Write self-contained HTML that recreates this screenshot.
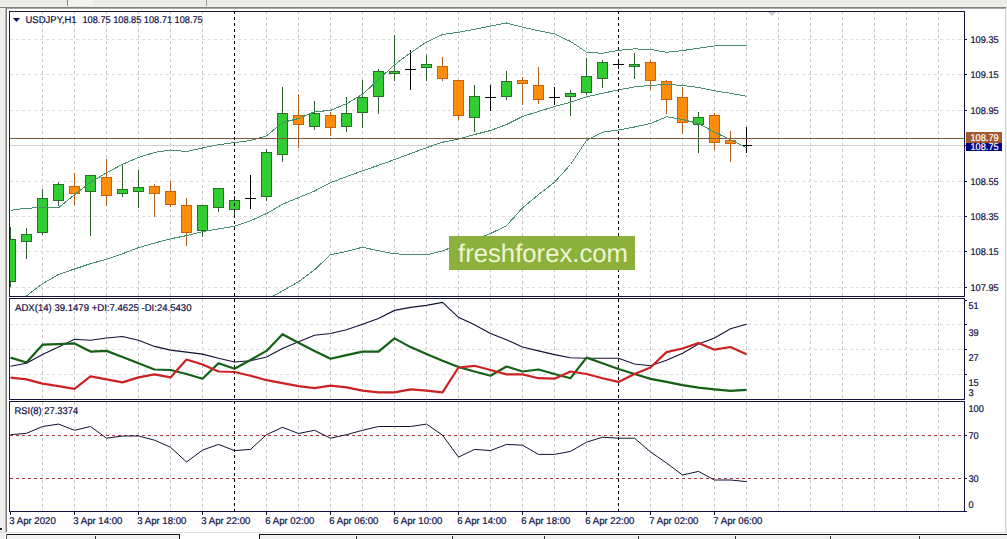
<!DOCTYPE html>
<html><head><meta charset="utf-8"><title>USDJPY H1</title>
<style>html,body{margin:0;padding:0;background:#fff;width:1007px;height:539px;overflow:hidden}
svg{display:block} text{font-family:"Liberation Sans",sans-serif;text-rendering:geometricPrecision}</style></head>
<body><svg width="1007" height="539" viewBox="0 0 1007 539"><defs><clipPath id="mainclip"><rect x="10" y="12" width="954" height="284"/></clipPath><clipPath id="adxclip"><rect x="10" y="299" width="954" height="100"/></clipPath></defs><rect x="0" y="0" width="1007" height="539" fill="#ffffff"/><rect x="0" y="0" width="1007" height="7" fill="#ebebe7"/><rect x="67" y="0" width="1" height="6" fill="#8a8a8a"/><rect x="68" y="0" width="25" height="6" fill="#f2f2f0"/><rect x="206" y="0" width="1" height="6" fill="#9a9a9a"/><rect x="0" y="7" width="1006" height="1" fill="#808080"/><rect x="0" y="8" width="1006" height="1" fill="#a8a8a8"/><rect x="0" y="8" width="5" height="531" fill="#efefed"/><rect x="5" y="8" width="1" height="525" fill="#b4b4b4"/><rect x="6" y="8" width="1" height="525" fill="#7c7c7c"/><rect x="0" y="528" width="2" height="2" fill="#222"/><rect x="1005" y="9" width="1" height="524" fill="#d4d4d4"/><rect x="1006" y="9" width="1" height="524" fill="#f2f2f2"/><rect x="0" y="532" width="1007" height="1" fill="#dedede"/><rect x="6" y="534" width="1001" height="5" fill="#f0f0f0"/><rect x="6" y="534" width="1001" height="1" fill="#111"/><rect x="180" y="533" width="79" height="6" fill="#ffffff"/><rect x="179" y="534" width="1" height="5" fill="#111"/><rect x="259" y="534" width="1" height="5" fill="#111"/><rect x="6" y="534" width="1" height="5" fill="#555"/><rect x="95" y="536" width="1" height="3" fill="#333"/><rect x="356" y="536" width="1" height="3" fill="#333"/><rect x="452" y="536" width="1" height="3" fill="#333"/><rect x="544" y="536" width="1" height="3" fill="#333"/><rect x="638" y="536" width="1" height="3" fill="#333"/><rect x="735" y="536" width="1" height="3" fill="#333"/><rect x="830" y="536" width="1" height="3" fill="#333"/><rect x="919" y="536" width="1" height="3" fill="#333"/><g shape-rendering="crispEdges"><line x1="42.5" y1="11" x2="42.5" y2="296" stroke="#c6c6c6" stroke-width="1" stroke-dasharray="3 3"/><line x1="42.5" y1="299" x2="42.5" y2="399" stroke="#c6c6c6" stroke-width="1" stroke-dasharray="3 3"/><line x1="42.5" y1="402" x2="42.5" y2="511" stroke="#c6c6c6" stroke-width="1" stroke-dasharray="3 3"/><line x1="74.5" y1="11" x2="74.5" y2="296" stroke="#c6c6c6" stroke-width="1" stroke-dasharray="3 3"/><line x1="74.5" y1="299" x2="74.5" y2="399" stroke="#c6c6c6" stroke-width="1" stroke-dasharray="3 3"/><line x1="74.5" y1="402" x2="74.5" y2="511" stroke="#c6c6c6" stroke-width="1" stroke-dasharray="3 3"/><line x1="106.5" y1="11" x2="106.5" y2="296" stroke="#c6c6c6" stroke-width="1" stroke-dasharray="3 3"/><line x1="106.5" y1="299" x2="106.5" y2="399" stroke="#c6c6c6" stroke-width="1" stroke-dasharray="3 3"/><line x1="106.5" y1="402" x2="106.5" y2="511" stroke="#c6c6c6" stroke-width="1" stroke-dasharray="3 3"/><line x1="138.5" y1="11" x2="138.5" y2="296" stroke="#c6c6c6" stroke-width="1" stroke-dasharray="3 3"/><line x1="138.5" y1="299" x2="138.5" y2="399" stroke="#c6c6c6" stroke-width="1" stroke-dasharray="3 3"/><line x1="138.5" y1="402" x2="138.5" y2="511" stroke="#c6c6c6" stroke-width="1" stroke-dasharray="3 3"/><line x1="170.5" y1="11" x2="170.5" y2="296" stroke="#c6c6c6" stroke-width="1" stroke-dasharray="3 3"/><line x1="170.5" y1="299" x2="170.5" y2="399" stroke="#c6c6c6" stroke-width="1" stroke-dasharray="3 3"/><line x1="170.5" y1="402" x2="170.5" y2="511" stroke="#c6c6c6" stroke-width="1" stroke-dasharray="3 3"/><line x1="202.5" y1="11" x2="202.5" y2="296" stroke="#c6c6c6" stroke-width="1" stroke-dasharray="3 3"/><line x1="202.5" y1="299" x2="202.5" y2="399" stroke="#c6c6c6" stroke-width="1" stroke-dasharray="3 3"/><line x1="202.5" y1="402" x2="202.5" y2="511" stroke="#c6c6c6" stroke-width="1" stroke-dasharray="3 3"/><line x1="266.5" y1="11" x2="266.5" y2="296" stroke="#c6c6c6" stroke-width="1" stroke-dasharray="3 3"/><line x1="266.5" y1="299" x2="266.5" y2="399" stroke="#c6c6c6" stroke-width="1" stroke-dasharray="3 3"/><line x1="266.5" y1="402" x2="266.5" y2="511" stroke="#c6c6c6" stroke-width="1" stroke-dasharray="3 3"/><line x1="298.5" y1="11" x2="298.5" y2="296" stroke="#c6c6c6" stroke-width="1" stroke-dasharray="3 3"/><line x1="298.5" y1="299" x2="298.5" y2="399" stroke="#c6c6c6" stroke-width="1" stroke-dasharray="3 3"/><line x1="298.5" y1="402" x2="298.5" y2="511" stroke="#c6c6c6" stroke-width="1" stroke-dasharray="3 3"/><line x1="330.5" y1="11" x2="330.5" y2="296" stroke="#c6c6c6" stroke-width="1" stroke-dasharray="3 3"/><line x1="330.5" y1="299" x2="330.5" y2="399" stroke="#c6c6c6" stroke-width="1" stroke-dasharray="3 3"/><line x1="330.5" y1="402" x2="330.5" y2="511" stroke="#c6c6c6" stroke-width="1" stroke-dasharray="3 3"/><line x1="362.5" y1="11" x2="362.5" y2="296" stroke="#c6c6c6" stroke-width="1" stroke-dasharray="3 3"/><line x1="362.5" y1="299" x2="362.5" y2="399" stroke="#c6c6c6" stroke-width="1" stroke-dasharray="3 3"/><line x1="362.5" y1="402" x2="362.5" y2="511" stroke="#c6c6c6" stroke-width="1" stroke-dasharray="3 3"/><line x1="394.5" y1="11" x2="394.5" y2="296" stroke="#c6c6c6" stroke-width="1" stroke-dasharray="3 3"/><line x1="394.5" y1="299" x2="394.5" y2="399" stroke="#c6c6c6" stroke-width="1" stroke-dasharray="3 3"/><line x1="394.5" y1="402" x2="394.5" y2="511" stroke="#c6c6c6" stroke-width="1" stroke-dasharray="3 3"/><line x1="426.5" y1="11" x2="426.5" y2="296" stroke="#c6c6c6" stroke-width="1" stroke-dasharray="3 3"/><line x1="426.5" y1="299" x2="426.5" y2="399" stroke="#c6c6c6" stroke-width="1" stroke-dasharray="3 3"/><line x1="426.5" y1="402" x2="426.5" y2="511" stroke="#c6c6c6" stroke-width="1" stroke-dasharray="3 3"/><line x1="458.5" y1="11" x2="458.5" y2="296" stroke="#c6c6c6" stroke-width="1" stroke-dasharray="3 3"/><line x1="458.5" y1="299" x2="458.5" y2="399" stroke="#c6c6c6" stroke-width="1" stroke-dasharray="3 3"/><line x1="458.5" y1="402" x2="458.5" y2="511" stroke="#c6c6c6" stroke-width="1" stroke-dasharray="3 3"/><line x1="490.5" y1="11" x2="490.5" y2="296" stroke="#c6c6c6" stroke-width="1" stroke-dasharray="3 3"/><line x1="490.5" y1="299" x2="490.5" y2="399" stroke="#c6c6c6" stroke-width="1" stroke-dasharray="3 3"/><line x1="490.5" y1="402" x2="490.5" y2="511" stroke="#c6c6c6" stroke-width="1" stroke-dasharray="3 3"/><line x1="522.5" y1="11" x2="522.5" y2="296" stroke="#c6c6c6" stroke-width="1" stroke-dasharray="3 3"/><line x1="522.5" y1="299" x2="522.5" y2="399" stroke="#c6c6c6" stroke-width="1" stroke-dasharray="3 3"/><line x1="522.5" y1="402" x2="522.5" y2="511" stroke="#c6c6c6" stroke-width="1" stroke-dasharray="3 3"/><line x1="554.5" y1="11" x2="554.5" y2="296" stroke="#c6c6c6" stroke-width="1" stroke-dasharray="3 3"/><line x1="554.5" y1="299" x2="554.5" y2="399" stroke="#c6c6c6" stroke-width="1" stroke-dasharray="3 3"/><line x1="554.5" y1="402" x2="554.5" y2="511" stroke="#c6c6c6" stroke-width="1" stroke-dasharray="3 3"/><line x1="586.5" y1="11" x2="586.5" y2="296" stroke="#c6c6c6" stroke-width="1" stroke-dasharray="3 3"/><line x1="586.5" y1="299" x2="586.5" y2="399" stroke="#c6c6c6" stroke-width="1" stroke-dasharray="3 3"/><line x1="586.5" y1="402" x2="586.5" y2="511" stroke="#c6c6c6" stroke-width="1" stroke-dasharray="3 3"/><line x1="650.5" y1="11" x2="650.5" y2="296" stroke="#c6c6c6" stroke-width="1" stroke-dasharray="3 3"/><line x1="650.5" y1="299" x2="650.5" y2="399" stroke="#c6c6c6" stroke-width="1" stroke-dasharray="3 3"/><line x1="650.5" y1="402" x2="650.5" y2="511" stroke="#c6c6c6" stroke-width="1" stroke-dasharray="3 3"/><line x1="682.5" y1="11" x2="682.5" y2="296" stroke="#c6c6c6" stroke-width="1" stroke-dasharray="3 3"/><line x1="682.5" y1="299" x2="682.5" y2="399" stroke="#c6c6c6" stroke-width="1" stroke-dasharray="3 3"/><line x1="682.5" y1="402" x2="682.5" y2="511" stroke="#c6c6c6" stroke-width="1" stroke-dasharray="3 3"/><line x1="714.5" y1="11" x2="714.5" y2="296" stroke="#c6c6c6" stroke-width="1" stroke-dasharray="3 3"/><line x1="714.5" y1="299" x2="714.5" y2="399" stroke="#c6c6c6" stroke-width="1" stroke-dasharray="3 3"/><line x1="714.5" y1="402" x2="714.5" y2="511" stroke="#c6c6c6" stroke-width="1" stroke-dasharray="3 3"/><line x1="746.5" y1="11" x2="746.5" y2="296" stroke="#c6c6c6" stroke-width="1" stroke-dasharray="3 3"/><line x1="746.5" y1="299" x2="746.5" y2="399" stroke="#c6c6c6" stroke-width="1" stroke-dasharray="3 3"/><line x1="746.5" y1="402" x2="746.5" y2="511" stroke="#c6c6c6" stroke-width="1" stroke-dasharray="3 3"/><line x1="778.5" y1="11" x2="778.5" y2="296" stroke="#c6c6c6" stroke-width="1" stroke-dasharray="3 3"/><line x1="778.5" y1="299" x2="778.5" y2="399" stroke="#c6c6c6" stroke-width="1" stroke-dasharray="3 3"/><line x1="778.5" y1="402" x2="778.5" y2="511" stroke="#c6c6c6" stroke-width="1" stroke-dasharray="3 3"/><line x1="810.5" y1="11" x2="810.5" y2="296" stroke="#c6c6c6" stroke-width="1" stroke-dasharray="3 3"/><line x1="810.5" y1="299" x2="810.5" y2="399" stroke="#c6c6c6" stroke-width="1" stroke-dasharray="3 3"/><line x1="810.5" y1="402" x2="810.5" y2="511" stroke="#c6c6c6" stroke-width="1" stroke-dasharray="3 3"/><line x1="842.5" y1="11" x2="842.5" y2="296" stroke="#c6c6c6" stroke-width="1" stroke-dasharray="3 3"/><line x1="842.5" y1="299" x2="842.5" y2="399" stroke="#c6c6c6" stroke-width="1" stroke-dasharray="3 3"/><line x1="842.5" y1="402" x2="842.5" y2="511" stroke="#c6c6c6" stroke-width="1" stroke-dasharray="3 3"/><line x1="874.5" y1="11" x2="874.5" y2="296" stroke="#c6c6c6" stroke-width="1" stroke-dasharray="3 3"/><line x1="874.5" y1="299" x2="874.5" y2="399" stroke="#c6c6c6" stroke-width="1" stroke-dasharray="3 3"/><line x1="874.5" y1="402" x2="874.5" y2="511" stroke="#c6c6c6" stroke-width="1" stroke-dasharray="3 3"/><line x1="906.5" y1="11" x2="906.5" y2="296" stroke="#c6c6c6" stroke-width="1" stroke-dasharray="3 3"/><line x1="906.5" y1="299" x2="906.5" y2="399" stroke="#c6c6c6" stroke-width="1" stroke-dasharray="3 3"/><line x1="906.5" y1="402" x2="906.5" y2="511" stroke="#c6c6c6" stroke-width="1" stroke-dasharray="3 3"/><line x1="938.5" y1="11" x2="938.5" y2="296" stroke="#c6c6c6" stroke-width="1" stroke-dasharray="3 3"/><line x1="938.5" y1="299" x2="938.5" y2="399" stroke="#c6c6c6" stroke-width="1" stroke-dasharray="3 3"/><line x1="938.5" y1="402" x2="938.5" y2="511" stroke="#c6c6c6" stroke-width="1" stroke-dasharray="3 3"/><line x1="10" y1="39.5" x2="964" y2="39.5" stroke="#dcdcdc" stroke-width="1" stroke-dasharray="3 3"/><line x1="10" y1="74.5" x2="964" y2="74.5" stroke="#dcdcdc" stroke-width="1" stroke-dasharray="3 3"/><line x1="10" y1="110.5" x2="964" y2="110.5" stroke="#dcdcdc" stroke-width="1" stroke-dasharray="3 3"/><line x1="10" y1="145.5" x2="964" y2="145.5" stroke="#dcdcdc" stroke-width="1" stroke-dasharray="3 3"/><line x1="10" y1="181.5" x2="964" y2="181.5" stroke="#dcdcdc" stroke-width="1" stroke-dasharray="3 3"/><line x1="10" y1="216.5" x2="964" y2="216.5" stroke="#dcdcdc" stroke-width="1" stroke-dasharray="3 3"/><line x1="10" y1="251.5" x2="964" y2="251.5" stroke="#dcdcdc" stroke-width="1" stroke-dasharray="3 3"/><line x1="10" y1="287.5" x2="964" y2="287.5" stroke="#dcdcdc" stroke-width="1" stroke-dasharray="3 3"/><line x1="10" y1="324.5" x2="964" y2="324.5" stroke="#dcdcdc" stroke-width="1" stroke-dasharray="3 3"/><line x1="10" y1="349.5" x2="964" y2="349.5" stroke="#dcdcdc" stroke-width="1" stroke-dasharray="3 3"/><line x1="10" y1="374.5" x2="964" y2="374.5" stroke="#dcdcdc" stroke-width="1" stroke-dasharray="3 3"/></g><g shape-rendering="crispEdges"><line x1="10" y1="435.5" x2="964" y2="435.5" stroke="#a83838" stroke-dasharray="3 3"/><line x1="10" y1="478.5" x2="964" y2="478.5" stroke="#a83838" stroke-dasharray="3 3"/></g><g clip-path="url(#mainclip)"><rect x="10" y="145" width="954" height="1" fill="#cfcfcf"/><g shape-rendering="crispEdges"><rect x="10" y="227" width="1" height="60" fill="#2f602f"/><rect x="5" y="239" width="11" height="43" fill="#287028"/><rect x="6" y="240" width="9" height="41" fill="#33cc33"/><rect x="26" y="228" width="1" height="31" fill="#2f602f"/><rect x="21" y="234" width="11" height="8" fill="#287028"/><rect x="22" y="235" width="9" height="6" fill="#33cc33"/><rect x="42" y="189" width="1" height="46" fill="#2f602f"/><rect x="37" y="198" width="11" height="35" fill="#287028"/><rect x="38" y="199" width="9" height="33" fill="#33cc33"/><rect x="58" y="182" width="1" height="24" fill="#2f602f"/><rect x="53" y="184" width="11" height="17" fill="#287028"/><rect x="54" y="185" width="9" height="15" fill="#33cc33"/><rect x="74" y="173" width="1" height="32" fill="#b05c1a"/><rect x="69" y="186" width="11" height="8" fill="#c8640a"/><rect x="70" y="187" width="9" height="6" fill="#ff8c0a"/><rect x="90" y="175" width="1" height="61" fill="#2f602f"/><rect x="85" y="175" width="11" height="17" fill="#287028"/><rect x="86" y="176" width="9" height="15" fill="#33cc33"/><rect x="106" y="159" width="1" height="47" fill="#b05c1a"/><rect x="101" y="177" width="11" height="19" fill="#c8640a"/><rect x="102" y="178" width="9" height="17" fill="#ff8c0a"/><rect x="122" y="164" width="1" height="33" fill="#2f602f"/><rect x="117" y="189" width="11" height="5" fill="#287028"/><rect x="118" y="190" width="9" height="3" fill="#33cc33"/><rect x="138" y="170" width="1" height="38" fill="#2f602f"/><rect x="133" y="187" width="11" height="5" fill="#287028"/><rect x="134" y="188" width="9" height="3" fill="#33cc33"/><rect x="154" y="184" width="1" height="33" fill="#b05c1a"/><rect x="149" y="186" width="11" height="8" fill="#c8640a"/><rect x="150" y="187" width="9" height="6" fill="#ff8c0a"/><rect x="170" y="181" width="1" height="26" fill="#b05c1a"/><rect x="165" y="191" width="11" height="14" fill="#c8640a"/><rect x="166" y="192" width="9" height="12" fill="#ff8c0a"/><rect x="186" y="198" width="1" height="48" fill="#b05c1a"/><rect x="181" y="205" width="11" height="28" fill="#c8640a"/><rect x="182" y="206" width="9" height="26" fill="#ff8c0a"/><rect x="202" y="205" width="1" height="32" fill="#2f602f"/><rect x="197" y="205" width="11" height="26" fill="#287028"/><rect x="198" y="206" width="9" height="24" fill="#33cc33"/><rect x="218" y="188" width="1" height="24" fill="#2f602f"/><rect x="213" y="188" width="11" height="20" fill="#287028"/><rect x="214" y="189" width="9" height="18" fill="#33cc33"/><rect x="234" y="196" width="1" height="21" fill="#2f602f"/><rect x="229" y="200" width="11" height="10" fill="#287028"/><rect x="230" y="201" width="9" height="8" fill="#33cc33"/><rect x="250" y="175" width="1" height="34" fill="#000"/><rect x="245" y="198" width="11" height="1" fill="#000"/><rect x="266" y="149" width="1" height="52" fill="#2f602f"/><rect x="261" y="152" width="11" height="45" fill="#287028"/><rect x="262" y="153" width="9" height="43" fill="#33cc33"/><rect x="282" y="87" width="1" height="75" fill="#2f602f"/><rect x="277" y="113" width="11" height="42" fill="#287028"/><rect x="278" y="114" width="9" height="40" fill="#33cc33"/><rect x="298" y="94" width="1" height="54" fill="#b05c1a"/><rect x="293" y="115" width="11" height="10" fill="#c8640a"/><rect x="294" y="116" width="9" height="8" fill="#ff8c0a"/><rect x="314" y="101" width="1" height="29" fill="#2f602f"/><rect x="309" y="113" width="11" height="14" fill="#287028"/><rect x="310" y="114" width="9" height="12" fill="#33cc33"/><rect x="330" y="112" width="1" height="24" fill="#b05c1a"/><rect x="325" y="115" width="11" height="13" fill="#c8640a"/><rect x="326" y="116" width="9" height="11" fill="#ff8c0a"/><rect x="346" y="97" width="1" height="35" fill="#2f602f"/><rect x="341" y="113" width="11" height="14" fill="#287028"/><rect x="342" y="114" width="9" height="12" fill="#33cc33"/><rect x="362" y="80" width="1" height="48" fill="#2f602f"/><rect x="357" y="97" width="11" height="16" fill="#287028"/><rect x="358" y="98" width="9" height="14" fill="#33cc33"/><rect x="378" y="69" width="1" height="45" fill="#2f602f"/><rect x="373" y="71" width="11" height="26" fill="#287028"/><rect x="374" y="72" width="9" height="24" fill="#33cc33"/><rect x="394" y="35" width="1" height="46" fill="#2f602f"/><rect x="389" y="71" width="11" height="3" fill="#287028"/><rect x="390" y="72" width="9" height="1" fill="#33cc33"/><rect x="410" y="50" width="1" height="40" fill="#000"/><rect x="405" y="69" width="11" height="1" fill="#000"/><rect x="426" y="55" width="1" height="26" fill="#2f602f"/><rect x="421" y="64" width="11" height="4" fill="#287028"/><rect x="422" y="65" width="9" height="2" fill="#33cc33"/><rect x="442" y="57" width="1" height="24" fill="#b05c1a"/><rect x="437" y="66" width="11" height="13" fill="#c8640a"/><rect x="438" y="67" width="9" height="11" fill="#ff8c0a"/><rect x="458" y="80" width="1" height="40" fill="#b05c1a"/><rect x="453" y="80" width="11" height="36" fill="#c8640a"/><rect x="454" y="81" width="9" height="34" fill="#ff8c0a"/><rect x="474" y="85" width="1" height="47" fill="#2f602f"/><rect x="469" y="96" width="11" height="22" fill="#287028"/><rect x="470" y="97" width="9" height="20" fill="#33cc33"/><rect x="490" y="85" width="1" height="26" fill="#000"/><rect x="485" y="97" width="11" height="1" fill="#000"/><rect x="506" y="71" width="1" height="29" fill="#2f602f"/><rect x="501" y="81" width="11" height="16" fill="#287028"/><rect x="502" y="82" width="9" height="14" fill="#33cc33"/><rect x="522" y="77" width="1" height="28" fill="#b05c1a"/><rect x="517" y="80" width="11" height="4" fill="#c8640a"/><rect x="518" y="81" width="9" height="2" fill="#ff8c0a"/><rect x="538" y="67" width="1" height="37" fill="#b05c1a"/><rect x="533" y="85" width="11" height="15" fill="#c8640a"/><rect x="534" y="86" width="9" height="13" fill="#ff8c0a"/><rect x="554" y="87" width="1" height="18" fill="#000"/><rect x="549" y="97" width="11" height="1" fill="#000"/><rect x="570" y="90" width="1" height="26" fill="#2f602f"/><rect x="565" y="93" width="11" height="4" fill="#287028"/><rect x="566" y="94" width="9" height="2" fill="#33cc33"/><rect x="586" y="58" width="1" height="37" fill="#2f602f"/><rect x="581" y="76" width="11" height="17" fill="#287028"/><rect x="582" y="77" width="9" height="15" fill="#33cc33"/><rect x="602" y="60" width="1" height="28" fill="#2f602f"/><rect x="597" y="62" width="11" height="17" fill="#287028"/><rect x="598" y="63" width="9" height="15" fill="#33cc33"/><rect x="618" y="60" width="1" height="9" fill="#000"/><rect x="613" y="64" width="11" height="1" fill="#000"/><rect x="634" y="53" width="1" height="26" fill="#2f602f"/><rect x="629" y="64" width="11" height="3" fill="#287028"/><rect x="630" y="65" width="9" height="1" fill="#33cc33"/><rect x="650" y="60" width="1" height="30" fill="#b05c1a"/><rect x="645" y="62" width="11" height="19" fill="#c8640a"/><rect x="646" y="63" width="9" height="17" fill="#ff8c0a"/><rect x="666" y="80" width="1" height="34" fill="#b05c1a"/><rect x="661" y="81" width="11" height="19" fill="#c8640a"/><rect x="662" y="82" width="9" height="17" fill="#ff8c0a"/><rect x="682" y="87" width="1" height="47" fill="#b05c1a"/><rect x="677" y="97" width="11" height="26" fill="#c8640a"/><rect x="678" y="98" width="9" height="24" fill="#ff8c0a"/><rect x="698" y="112" width="1" height="41" fill="#2f602f"/><rect x="693" y="117" width="11" height="8" fill="#287028"/><rect x="694" y="118" width="9" height="6" fill="#33cc33"/><rect x="714" y="113" width="1" height="37" fill="#b05c1a"/><rect x="709" y="115" width="11" height="28" fill="#c8640a"/><rect x="710" y="116" width="9" height="26" fill="#ff8c0a"/><rect x="730" y="131" width="1" height="31" fill="#b05c1a"/><rect x="725" y="140" width="11" height="4" fill="#c8640a"/><rect x="726" y="141" width="9" height="2" fill="#ff8c0a"/><rect x="746" y="127" width="1" height="26" fill="#000"/><rect x="741" y="145" width="11" height="1" fill="#000"/></g><g shape-rendering="crispEdges"><polyline points="10.5,210.4 26.5,208.1 42.5,207.8 58.5,207.8 74.5,194.7 90.5,182.2 106.5,172.9 122.5,164.3 138.5,157.5 154.5,152.4 170.5,150.0 186.5,151.5 202.5,148.0 218.5,144.7 234.5,142.6 250.5,140.5 266.5,135.9 282.5,122.5 298.5,118.5 314.5,111.8 330.5,110.4 346.5,103.7 362.5,94.3 378.5,79.6 394.5,64.9 410.5,52.8 426.5,42.1 442.5,34.5 458.5,32.3 474.5,29.3 490.5,26.1 506.5,23.0 522.5,27.2 538.5,30.7 554.5,33.8 570.5,41.5 586.5,52.2 602.5,53.3 618.5,50.3 634.5,48.9 650.5,49.4 666.5,52.3 682.5,50.6 698.5,48.2 714.5,46.0 730.5,45.2 746.5,45.2" fill="none" stroke="#4a8f6c" stroke-width="1"/><polyline points="10.5,308.0 26.5,295.9 42.5,283.8 58.5,274.5 74.5,269.0 90.5,263.7 106.5,259.2 122.5,253.8 138.5,247.6 154.5,243.1 170.5,238.8 186.5,235.6 202.5,231.6 218.5,228.9 234.5,226.2 250.5,220.8 266.5,213.6 282.5,204.3 298.5,197.6 314.5,191.0 330.5,182.7 346.5,176.7 362.5,170.8 378.5,165.3 394.5,159.6 410.5,153.6 426.5,147.7 442.5,142.2 458.5,139.1 474.5,134.5 490.5,130.5 506.5,124.5 522.5,116.5 538.5,111.5 554.5,106.5 570.5,102.3 586.5,96.8 602.5,93.3 618.5,89.9 634.5,87.0 650.5,85.4 666.5,84.4 682.5,85.4 698.5,87.4 714.5,90.8 730.5,93.3 746.5,96.2" fill="none" stroke="#4a8f6c" stroke-width="1"/><polyline points="250.5,310.0 266.5,300.0 282.5,290.8 298.5,281.8 314.5,269.8 330.5,254.8 346.5,251.5 362.5,247.2 378.5,250.8 394.5,253.9 410.5,254.3 426.5,254.8 442.5,250.8 458.5,245.0 474.5,240.0 490.5,233.5 506.5,225.7 522.5,207.9 538.5,194.6 554.5,182.3 570.5,164.5 586.5,140.5 602.5,132.2 618.5,130.0 634.5,127.0 650.5,123.5 666.5,116.8 682.5,119.5 698.5,123.5 714.5,132.2 730.5,139.6 746.5,147.8" fill="none" stroke="#4a8f6c" stroke-width="1"/></g></g><rect x="10" y="138" width="954" height="1" fill="#7a5840"/><g shape-rendering="crispEdges"><line x1="234.5" y1="11" x2="234.5" y2="511" stroke="#000" stroke-dasharray="3 3"/><line x1="618.5" y1="11" x2="618.5" y2="511" stroke="#000" stroke-dasharray="3 3"/></g><rect x="449" y="236" width="186" height="34" fill="#8bb03c"/><text x="458" y="261.5" font-family="Liberation Sans" font-size="25.5" fill="#eef6d2" textLength="170" lengthAdjust="spacingAndGlyphs">freshforex.com</text><g clip-path="url(#adxclip)"><polyline points="10.5,366.3 26.5,363.3 42.5,354.6 58.5,347.1 74.5,339.2 90.5,340.2 106.5,338.0 122.5,336.5 138.5,340.2 154.5,346.4 170.5,350.1 186.5,352.1 202.5,354.1 218.5,358.3 234.5,362.0 250.5,360.8 266.5,357.0 282.5,348.4 298.5,341.7 314.5,335.2 330.5,333.5 346.5,329.8 362.5,324.3 378.5,318.6 394.5,310.4 410.5,307.4 426.5,305.4 442.5,302.4 458.5,317.3 474.5,324.8 490.5,333.5 506.5,339.7 522.5,347.1 538.5,350.9 554.5,354.6 570.5,357.8 586.5,358.3 602.5,358.3 618.5,358.3 634.5,364.0 650.5,365.8 666.5,360.3 682.5,353.2 698.5,344.0 714.5,337.9 730.5,328.7 746.5,324.2" fill="none" stroke="#101034" stroke-width="1.1"/><polyline points="10.5,357.6 26.5,362.5 42.5,344.7 58.5,344.2 74.5,343.4 90.5,351.6 106.5,350.9 122.5,357.0 138.5,363.3 154.5,369.5 170.5,370.0 186.5,374.0 202.5,378.7 218.5,363.3 234.5,368.7 250.5,360.0 266.5,350.9 282.5,334.2 298.5,342.7 314.5,350.9 330.5,358.8 346.5,355.1 362.5,351.6 378.5,351.6 394.5,338.4 410.5,347.1 426.5,354.1 442.5,360.8 458.5,367.0 474.5,371.5 490.5,375.7 506.5,366.5 522.5,371.5 538.5,369.5 554.5,374.0 570.5,378.2 586.5,357.6 602.5,363.3 618.5,369.0 634.5,374.0 650.5,378.9 666.5,381.9 682.5,385.1 698.5,387.6 714.5,389.3 730.5,390.9 746.5,389.9" fill="none" stroke="#146014" stroke-width="2.2" stroke-linejoin="round"/><polyline points="10.5,377.7 26.5,379.4 42.5,383.6 58.5,386.1 74.5,388.8 90.5,376.4 106.5,379.4 122.5,382.4 138.5,377.4 154.5,374.4 170.5,377.4 186.5,359.5 202.5,364.5 218.5,371.5 234.5,372.0 250.5,375.7 266.5,380.2 282.5,383.1 298.5,386.1 314.5,388.1 330.5,385.6 346.5,387.4 362.5,390.6 378.5,392.3 394.5,392.3 410.5,389.3 426.5,390.6 442.5,392.3 458.5,367.5 474.5,365.8 490.5,370.0 506.5,374.4 522.5,374.4 538.5,378.2 554.5,378.7 570.5,371.5 586.5,374.0 602.5,378.2 618.5,381.9 634.5,374.0 650.5,367.5 666.5,352.1 682.5,348.5 698.5,343.0 714.5,349.7 730.5,347.0 746.5,354.2" fill="none" stroke="#cc2222" stroke-width="2.2" stroke-linejoin="round"/></g><polyline points="10.5,434.7 26.5,433.3 42.5,426.5 58.5,424.1 74.5,430.3 90.5,426.5 106.5,438.2 122.5,436.0 138.5,436.0 154.5,440.2 170.5,447.2 186.5,462.0 202.5,450.1 218.5,444.4 234.5,450.6 250.5,449.4 266.5,434.7 282.5,427.3 298.5,433.5 314.5,430.3 330.5,438.2 346.5,434.7 362.5,430.3 378.5,426.5 394.5,426.5 410.5,426.5 426.5,424.1 442.5,435.2 458.5,457.1 474.5,449.4 490.5,450.6 506.5,444.4 522.5,445.2 538.5,454.4 554.5,454.4 570.5,451.4 586.5,442.2 602.5,437.2 618.5,438.2 634.5,438.2 650.5,451.9 666.5,463.0 682.5,475.0 698.5,471.4 714.5,480.0 730.5,480.0 746.5,481.6" fill="none" stroke="#101034" stroke-width="1"/><g shape-rendering="crispEdges"><rect x="9" y="11" width="956" height="1" fill="#14143e"/><rect x="9" y="296" width="956" height="1" fill="#14143e"/><rect x="9" y="11" width="1" height="286" fill="#14143e"/><rect x="964" y="11" width="1" height="286" fill="#14143e"/><rect x="9" y="298" width="956" height="1" fill="#14143e"/><rect x="9" y="399" width="956" height="1" fill="#14143e"/><rect x="9" y="298" width="1" height="102" fill="#14143e"/><rect x="964" y="298" width="1" height="102" fill="#14143e"/><rect x="9" y="401" width="956" height="1" fill="#14143e"/><rect x="9" y="511" width="956" height="1" fill="#14143e"/><rect x="9" y="401" width="1" height="111" fill="#14143e"/><rect x="964" y="401" width="1" height="111" fill="#14143e"/><rect x="965" y="39" width="2" height="1" fill="#14143e"/><rect x="965" y="74" width="2" height="1" fill="#14143e"/><rect x="965" y="110" width="2" height="1" fill="#14143e"/><rect x="965" y="145" width="2" height="1" fill="#14143e"/><rect x="965" y="181" width="2" height="1" fill="#14143e"/><rect x="965" y="216" width="2" height="1" fill="#14143e"/><rect x="965" y="251" width="2" height="1" fill="#14143e"/><rect x="965" y="287" width="2" height="1" fill="#14143e"/><rect x="965" y="300" width="2" height="1" fill="#14143e"/><rect x="965" y="324" width="2" height="1" fill="#14143e"/><rect x="965" y="349" width="2" height="1" fill="#14143e"/><rect x="965" y="374" width="2" height="1" fill="#14143e"/><rect x="965" y="435" width="2" height="1" fill="#14143e"/><rect x="965" y="478" width="2" height="1" fill="#14143e"/><rect x="965" y="511" width="2" height="1" fill="#14143e"/><rect x="10" y="512" width="1" height="3" fill="#14143e"/><rect x="74" y="512" width="1" height="3" fill="#14143e"/><rect x="138" y="512" width="1" height="3" fill="#14143e"/><rect x="202" y="512" width="1" height="3" fill="#14143e"/><rect x="266" y="512" width="1" height="3" fill="#14143e"/><rect x="330" y="512" width="1" height="3" fill="#14143e"/><rect x="394" y="512" width="1" height="3" fill="#14143e"/><rect x="458" y="512" width="1" height="3" fill="#14143e"/><rect x="522" y="512" width="1" height="3" fill="#14143e"/><rect x="586" y="512" width="1" height="3" fill="#14143e"/><rect x="650" y="512" width="1" height="3" fill="#14143e"/><rect x="714" y="512" width="1" height="3" fill="#14143e"/></g><polygon points="768,12 776,12 772,16" fill="#cccccc"/><rect x="966" y="140" width="36" height="11" fill="#000080"/><rect x="966" y="132" width="36" height="11" fill="#a4582e"/><polygon points="13,18 20,18 16.5,22" fill="#10105a"/><g font-family="Liberation Sans"><text transform="translate(25.5,23) scale(0.9694,1)" font-size="9.8" fill="#0e0e44" stroke="#0e0e44" stroke-width="0.2" >USDJPY,H1</text><text transform="translate(82.5,23) scale(0.9388,1)" font-size="9.8" fill="#0e0e44" stroke="#0e0e44" stroke-width="0.2" >108.75 108.85 108.71 108.75</text><text transform="translate(970.5,43) scale(0.9388,1)" font-size="9.8" fill="#0e0e44" stroke="#0e0e44" stroke-width="0.2" >109.35</text><text transform="translate(970.5,78) scale(0.9388,1)" font-size="9.8" fill="#0e0e44" stroke="#0e0e44" stroke-width="0.2" >109.15</text><text transform="translate(970.5,114) scale(0.9388,1)" font-size="9.8" fill="#0e0e44" stroke="#0e0e44" stroke-width="0.2" >108.95</text><text transform="translate(970.5,185) scale(0.9388,1)" font-size="9.8" fill="#0e0e44" stroke="#0e0e44" stroke-width="0.2" >108.55</text><text transform="translate(970.5,220) scale(0.9388,1)" font-size="9.8" fill="#0e0e44" stroke="#0e0e44" stroke-width="0.2" >108.35</text><text transform="translate(970.5,255) scale(0.9388,1)" font-size="9.8" fill="#0e0e44" stroke="#0e0e44" stroke-width="0.2" >108.15</text><text transform="translate(970.5,291) scale(0.9388,1)" font-size="9.8" fill="#0e0e44" stroke="#0e0e44" stroke-width="0.2" >107.95</text><text transform="translate(970.5,141) scale(0.9388,1)" font-size="9.8" fill="#ffffff" stroke="#ffffff" stroke-width="0.2" >108.79</text><text transform="translate(970.5,150) scale(0.9388,1)" font-size="9.8" fill="#ffffff" stroke="#ffffff" stroke-width="0.2" >108.75</text><text transform="translate(15,311) scale(0.9776,1)" font-size="9.8" fill="#0e0e44" stroke="#0e0e44" stroke-width="0.2" >ADX(14) 39.1479 +DI:7.4625 -DI:24.5430</text><text transform="translate(14.5,414) scale(0.9592,1)" font-size="9.8" fill="#0e0e44" stroke="#0e0e44" stroke-width="0.2" >RSI(8) 27.3374</text><text transform="translate(968.5,308.5) scale(0.9388,1)" font-size="9.8" fill="#0e0e44" stroke="#0e0e44" stroke-width="0.2" >51</text><text transform="translate(968.5,336) scale(0.9388,1)" font-size="9.8" fill="#0e0e44" stroke="#0e0e44" stroke-width="0.2" >39</text><text transform="translate(968.5,361) scale(0.9388,1)" font-size="9.8" fill="#0e0e44" stroke="#0e0e44" stroke-width="0.2" >27</text><text transform="translate(968.5,386.2) scale(0.9388,1)" font-size="9.8" fill="#0e0e44" stroke="#0e0e44" stroke-width="0.2" >15</text><text transform="translate(968.5,395.5) scale(0.9388,1)" font-size="9.8" fill="#0e0e44" stroke="#0e0e44" stroke-width="0.2" >3</text><text transform="translate(968.5,411.8) scale(0.9388,1)" font-size="9.8" fill="#0e0e44" stroke="#0e0e44" stroke-width="0.2" >100</text><text transform="translate(968.5,439.1) scale(0.9388,1)" font-size="9.8" fill="#0e0e44" stroke="#0e0e44" stroke-width="0.2" >70</text><text transform="translate(968.5,482.3) scale(0.9388,1)" font-size="9.8" fill="#0e0e44" stroke="#0e0e44" stroke-width="0.2" >30</text><text transform="translate(968.5,507.9) scale(0.9388,1)" font-size="9.8" fill="#0e0e44" stroke="#0e0e44" stroke-width="0.2" >0</text><text transform="translate(9.3,524) scale(0.9796,1)" font-size="9.8" fill="#0e0e44" stroke="#0e0e44" stroke-width="0.2" >3 Apr 2020</text><text transform="translate(73.3,524) scale(0.9796,1)" font-size="9.8" fill="#0e0e44" stroke="#0e0e44" stroke-width="0.2" >3 Apr 14:00</text><text transform="translate(137.3,524) scale(0.9796,1)" font-size="9.8" fill="#0e0e44" stroke="#0e0e44" stroke-width="0.2" >3 Apr 18:00</text><text transform="translate(201.3,524) scale(0.9796,1)" font-size="9.8" fill="#0e0e44" stroke="#0e0e44" stroke-width="0.2" >3 Apr 22:00</text><text transform="translate(265.3,524) scale(0.9796,1)" font-size="9.8" fill="#0e0e44" stroke="#0e0e44" stroke-width="0.2" >6 Apr 02:00</text><text transform="translate(329.3,524) scale(0.9796,1)" font-size="9.8" fill="#0e0e44" stroke="#0e0e44" stroke-width="0.2" >6 Apr 06:00</text><text transform="translate(393.3,524) scale(0.9796,1)" font-size="9.8" fill="#0e0e44" stroke="#0e0e44" stroke-width="0.2" >6 Apr 10:00</text><text transform="translate(457.3,524) scale(0.9796,1)" font-size="9.8" fill="#0e0e44" stroke="#0e0e44" stroke-width="0.2" >6 Apr 14:00</text><text transform="translate(521.3,524) scale(0.9796,1)" font-size="9.8" fill="#0e0e44" stroke="#0e0e44" stroke-width="0.2" >6 Apr 18:00</text><text transform="translate(585.3,524) scale(0.9796,1)" font-size="9.8" fill="#0e0e44" stroke="#0e0e44" stroke-width="0.2" >6 Apr 22:00</text><text transform="translate(649.3,524) scale(0.9796,1)" font-size="9.8" fill="#0e0e44" stroke="#0e0e44" stroke-width="0.2" >7 Apr 02:00</text><text transform="translate(713.3,524) scale(0.9796,1)" font-size="9.8" fill="#0e0e44" stroke="#0e0e44" stroke-width="0.2" >7 Apr 06:00</text></g></svg></body></html>
